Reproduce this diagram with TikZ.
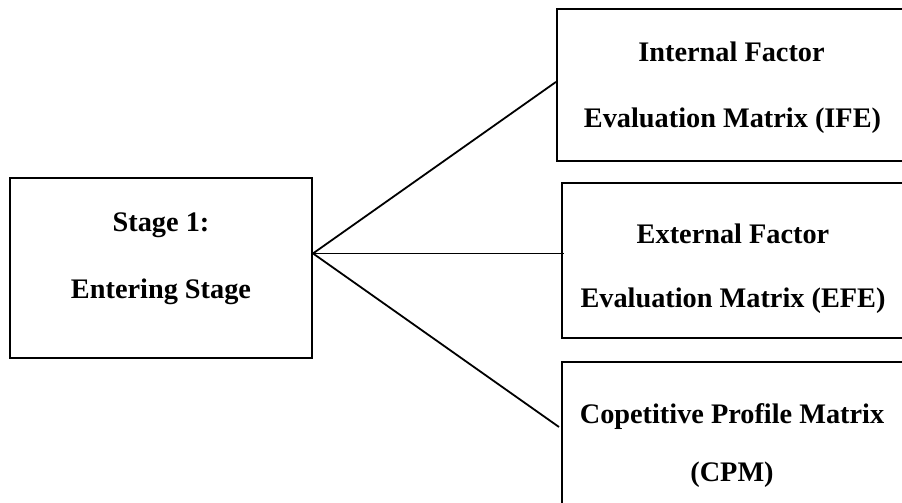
\documentclass[tikz,border=0pt]{standalone}
\usepackage{fontspec}
\setmainfont{Liberation Serif}
\usetikzlibrary{calc}
\begin{document}
\begin{tikzpicture}[x=1pt,y=-1pt,
  box/.style={draw, line width=2pt, inner sep=0pt},
  lbl/.style={font=\fontsize{28.3}{34}\selectfont\bfseries, anchor=base, inner sep=0pt},
  link/.style={line width=1.8pt}]
\useasboundingbox (0,0) rectangle (902,503);
\clip (0,0) rectangle (902,503);
% boxes
\node[box, minimum width=302pt, minimum height=180pt] (stage) at (161,268) {};
\node[box, minimum width=350pt, minimum height=152pt] (ife) at (732,85) {};
\node[box, minimum width=342pt, minimum height=155pt] (efe) at (733,260.5) {};
\node[box, minimum width=342pt, minimum height=180pt] (cpm) at (733,452) {};
% texts
\node[lbl] (s1) at (161,231) {Stage 1:};
\node[lbl] (s2) at (161,298) {Entering Stage};
\node[lbl] (i1) at (731.5,62) {Internal Factor};
\node[lbl] (i2) at (732.5,127) {Evaluation Matrix (IFE)};
\node[lbl] (e1) at (733,243.5) {External Factor};
\node[lbl] (e2) at (733,307) {Evaluation Matrix (EFE)};
\node[lbl] (c1) at (732,423) {Copetitive Profile Matrix};
\node[lbl] (c2) at (732,481) {(CPM)};
% connectors
\coordinate (hub) at ($(stage.north east)!0.42!(stage.south east)$);
\coordinate (ifeend) at ($(ife.north west)!0.48!(ife.south west)$);
\coordinate (efeend) at ($(efe.west |- hub)+(3,0)$);
\coordinate (cpmend) at ($(cpm.north west)+(-2,66)$);
\draw[link] (hub) -- (ifeend);
\draw[link] (hub) -- (efeend);
\draw[link] (hub) -- (cpmend);
\end{tikzpicture}
\end{document}
